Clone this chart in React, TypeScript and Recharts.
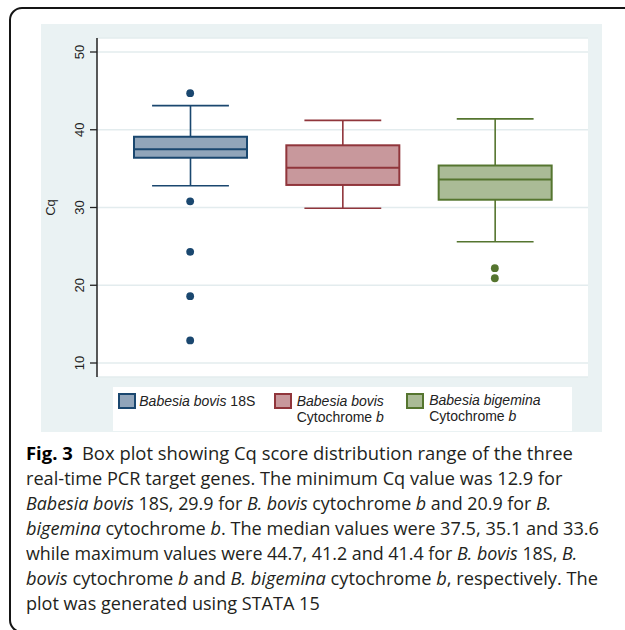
import { useLayoutEffect, useRef, useState } from 'react';
import { ComposedChart, Bar, Scatter, XAxis, YAxis, CartesianGrid, Legend } from 'recharts';

// Cq distributions per real-time PCR target
const genes = ['Babesia bovis 18S', 'Babesia bovis Cytochrome b', 'Babesia bigemina Cytochrome b'];
const whiskerLow = [32.8, 29.9, 25.6];
const lowerQuartile = [36.4, 32.9, 31.0];
const medians = [37.5, 35.1, 33.6];
const upperQuartile = [39.1, 38.0, 35.4];
const whiskerHigh = [43.1, 41.2, 41.4];
const outliers = [[44.7, 30.8, 24.3, 18.6, 12.9], [], [22.2, 20.9]];
const yTicks = [10, 20, 30, 40, 50];

const strokes = ['#1A476F', '#90353B', '#55752F'];
const fills = ['#91A5BA', '#C8989C', '#AABB96'];
const axisFont = '"Liberation Sans", Arial, sans-serif';

const boxRows = genes.map((name, i) => ({
  name,
  range: [whiskerLow[i], whiskerHigh[i]],
  lo: whiskerLow[i],
  q1: lowerQuartile[i],
  med: medians[i],
  q3: upperQuartile[i],
  hi: whiskerHigh[i],
  idx: i,
}));

function BoxShape(props: any) {
  const { x, y, width, height, payload } = props;
  const { lo, hi, q1, med, q3, idx } = payload;
  const top = Math.min(y, y + height);
  const k = Math.abs(height) / (hi - lo);
  const py = (v: number) => top + (hi - v) * k;
  const cx = x + width / 2;
  const cap = width * 0.34;
  const c = strokes[idx];
  return (
    <g>
      <line x1={cx} x2={cx} y1={py(hi)} y2={py(q3)} stroke={c} strokeWidth={1.6} />
      <line x1={cx} x2={cx} y1={py(q1)} y2={py(lo)} stroke={c} strokeWidth={1.6} />
      <line x1={cx - cap} x2={cx + cap} y1={py(hi)} y2={py(hi)} stroke={c} strokeWidth={1.6} />
      <line x1={cx - cap} x2={cx + cap} y1={py(lo)} y2={py(lo)} stroke={c} strokeWidth={1.6} />
      <rect x={x} y={py(q3)} width={width} height={py(q1) - py(q3)} fill={fills[idx]} stroke={c} strokeWidth={2} />
      <line x1={x} x2={x + width} y1={py(med)} y2={py(med)} stroke={c} strokeWidth={2} />
    </g>
  );
}

function YTick(props: any) {
  const { x, y, payload } = props;
  const tx = x - 10.5;
  return (
    <text x={tx} y={y} transform={`rotate(-90 ${tx} ${y})`} textAnchor="middle" dominantBaseline="central"
      fontSize={13} fill="#222" fontFamily={axisFont}>
      {payload.value}
    </text>
  );
}

function LegendBox() {
  const swatch = (left: number, i: number) => (
    <div style={{ position: 'absolute', left, top: 6, width: 18, height: 16, boxSizing: 'border-box',
      background: fills[i], border: `2px solid ${strokes[i]}` }} />
  );
  const txt: React.CSSProperties = { position: 'absolute', top: 6, fontSize: 14, lineHeight: '16.6px',
    color: '#222', fontFamily: axisFont, whiteSpace: 'nowrap' };
  return (
    <div style={{ position: 'relative', width: 459, height: 44, background: '#fff' }}>
      {swatch(5.6, 0)}
      <div style={{ ...txt, left: 26.6 }}><i>Babesia bovis</i> 18S</div>
      {swatch(161.3, 1)}
      <div style={{ ...txt, left: 184 }}><i>Babesia bovis</i><br />Cytochrome <i>b</i></div>
      {swatch(293.3, 2)}
      <div style={{ ...txt, left: 316.5, top: 5 }}><i>Babesia bigemina</i><br />Cytochrome <i>b</i></div>
    </div>
  );
}

const captionLines: { parts: [string, string][]; end: number }[] = [
  { parts: [['b', 'Fig. 3'], ['n', '\u2002Box plot showing Cq score distribution range of the three']], end: 573 },
  { parts: [['n', 'real-time PCR target genes. The minimum Cq value was 12.9 for']], end: 562 },
  { parts: [['i', 'Babesia bovis'], ['n', ' 18S, 29.9 for '], ['i', 'B. bovis'], ['n', ' cytochrome '], ['i', 'b'], ['n', ' and 20.9 for '], ['i', 'B.']], end: 551 },
  { parts: [['i', 'bigemina'], ['n', ' cytochrome '], ['i', 'b'], ['n', '. The median values were 37.5, 35.1 and 33.6']], end: 599 },
  { parts: [['n', 'while maximum values were 44.7, 41.2 and 41.4 for '], ['i', 'B. bovis'], ['n', ' 18S, '], ['i', 'B.']], end: 577 },
  { parts: [['i', 'bovis'], ['n', ' cytochrome '], ['i', 'b'], ['n', ' and '], ['i', 'B. bigemina'], ['n', ' cytochrome '], ['i', 'b'], ['n', ', respectively. The']], end: 598 },
  { parts: [['n', 'plot was generated using STATA 15']], end: 320 },
];

// one caption line, squeezed horizontally so it ends where the printed line ends
function CaptionLine({ parts, end }: { parts: [string, string][]; end: number }) {
  const ref = useRef<HTMLSpanElement>(null);
  const [k, setK] = useState(1);
  useLayoutEffect(() => {
    if (ref.current) setK((end - 26) / ref.current.offsetWidth);
  }, [end]);
  return (
    <div style={{ height: 25, whiteSpace: 'pre' }}>
      <span ref={ref} style={{ display: 'inline-block', transform: `scaleX(${k})`, transformOrigin: 'left center' }}>
        {parts.map(([kind, s], pi) =>
          kind === 'b' ? <b key={pi} style={{ color: '#000' }}>{s}</b>
            : kind === 'i' ? <i key={pi}>{s}</i> : <span key={pi}>{s}</span>
        )}
      </span>
    </div>
  );
}

export default function App() {
  return (
    <div style={{ position: 'absolute', left: 0, top: 0, width: 625, height: 630, overflow: 'hidden', background: '#fff' }}>
      <div style={{ position: 'absolute', left: 9, top: 7, width: 720, height: 626, boxSizing: 'border-box',
        border: '2px solid #151515', borderRadius: 13 }} />
      <div style={{ position: 'absolute', left: 41, top: 24, width: 561, height: 408, background: '#EAF2F3' }}>
        <ComposedChart width={561} height={408} data={boxRows} margin={{ top: 14, right: 14, bottom: 55, left: 0 }}>
          <CartesianGrid vertical={false} fill="#fff" stroke="#E3ECEE" strokeWidth={1.5} />
          <XAxis dataKey="name" type="category" allowDuplicatedCategory={false} tick={false} tickLine={false}
            height={0} padding={{ left: 17, right: 17 }} axisLine={{ stroke: '#222', strokeWidth: 1.5 }} />
          <YAxis type="number" domain={[8.2, 51.8]} ticks={yTicks} allowDataOverflow width={56} tickSize={7}
            tickMargin={0} tick={<YTick />} tickLine={{ stroke: '#222', strokeWidth: 1.3 }}
            axisLine={{ stroke: '#222', strokeWidth: 1.5 }}
            label={{
              content: (p: any) => {
                const vb = p.viewBox;
                const lx = vb.x + 9;
                const ly = vb.y + vb.height / 2;
                return (
                  <text x={lx} y={ly} transform={`rotate(-90 ${lx} ${ly})`} textAnchor="middle"
                    dominantBaseline="central" fontSize={13} fill="#222" fontFamily={axisFont}>Cq</text>
                );
              },
            }} />
          <Bar data={boxRows} dataKey="range" barSize={113} shape={<BoxShape />} isAnimationActive={false} />
          {outliers.map((vals, i) =>
            vals.length ? (
              <Scatter key={genes[i]} data={vals.map((v) => ({ name: genes[i], cq: v }))} dataKey="cq"
                isAnimationActive={false}
                shape={(p: any) => <circle cx={p.cx} cy={p.cy} r={3.9} fill={strokes[i]} />} />
            ) : null
          )}
          <Legend layout="horizontal" verticalAlign="middle" align="center"
            wrapperStyle={{ left: 71.7, top: 362.7, width: 459, height: 44 }} content={() => <LegendBox />} />
        </ComposedChart>
      </div>
      <div style={{ position: 'absolute', left: 26, top: 440, width: 620, fontSize: 18.5, lineHeight: '25px',
        fontFamily: '"Open Sans", "Noto Sans", sans-serif', color: '#231F20' }}>
        {captionLines.map((ln, li) => <CaptionLine key={li} parts={ln.parts} end={ln.end} />)}
      </div>
    </div>
  );
}
